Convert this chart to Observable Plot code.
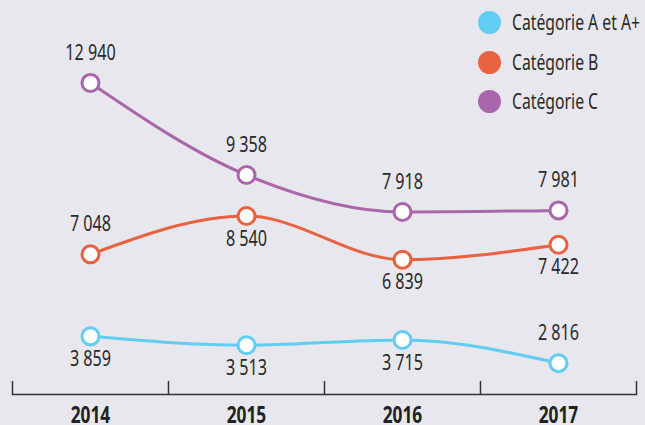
<!DOCTYPE html>
<html>
<head>
<meta charset="utf-8">
<script src="https://cdn.jsdelivr.net/npm/d3@7"></script>
<script src="https://cdn.jsdelivr.net/npm/@observablehq/plot@0.6"></script>
<style>
  html, body { margin: 0; padding: 0; background: #e7e7ed; }
  #wrap { position: relative; width: 645px; height: 425px; overflow: hidden; }
  #legend { position: absolute; left: 478px; top: 0; font-family: "Noto Sans", sans-serif; font-size: 21px; color: #2a2a2a; }
  .item { position: absolute; left: 0; white-space: nowrap; display: flex; align-items: center; height: 24px; }
  .sw { width: 23px; height: 23px; border-radius: 50%; margin-right: 11px; flex: none; }
  .lab { display: inline-block; transform: scaleX(0.75); transform-origin: left center; }
</style>
</head>
<body>
<div id="wrap"><div id="legend"></div></div>
<script>
const years = [2014, 2015, 2016, 2017];
const seriesNames = ["Catégorie A et A+", "Catégorie B", "Catégorie C"];
const catA = [3859, 3513, 3715, 2816];
const catB = [7048, 8540, 6839, 7422];
const catC = [12940, 9358, 7918, 7981];
const colors = ["#62cdf3", "#e9623f", "#a966ab"];
// which side of the point each value label sits on
const sideA = ["below", "below", "below", "above"];
const sideB = ["above", "below", "below", "below"];
const sideC = ["above", "above", "above", "above"];

const fmt = d3.formatLocale({decimal: ",", thousands: " ", grouping: [3], currency: ["", " €"]}).format(",d");

const seriesValues = [catA, catB, catC];
const seriesSides = [sideA, sideB, sideC];
const shift = [0, 0, -20]; // vertical nudge of series C in the original layout

const bounds = years.map(y => y - 0.5).concat([years[years.length - 1] + 0.5]);
const font = '"Noto Sans", sans-serif';

const marks = [];
marks.push(Plot.frame({anchor: "bottom", stroke: "#333", strokeWidth: 1.5}));
marks.push(Plot.ruleX(bounds, {x: d => d, stroke: "#333", strokeWidth: 1.5, insetTop: 381}));
marks.push(Plot.axisX(years, {tickSize: 0, tickPadding: 12, tickFormat: d => String(d), fontSize: 23, fontWeight: "bold", fill: "#222", label: null}));

seriesNames.forEach((name, i) => {
  const rows = years.map((y, j) => ({year: y, value: seriesValues[i][j], side: seriesSides[i][j], series: name}));
  marks.push(Plot.line(rows, {x: "year", y: "value", stroke: colors[i], strokeWidth: 3, curve: "monotone-x", dy: shift[i]}));
});
seriesNames.forEach((name, i) => {
  const rows = years.map((y, j) => ({year: y, value: seriesValues[i][j], side: seriesSides[i][j], series: name}));
  marks.push(Plot.dot(rows, {x: "year", y: "value", r: 8.5, fill: "white", stroke: colors[i], strokeWidth: 3, dy: shift[i]}));
  marks.push(Plot.text(rows.filter(d => d.side === "above"), {x: "year", y: "value", text: d => fmt(d.value), dy: shift[i] - 30, fontSize: 21, fill: "#2a2a2a"}));
  marks.push(Plot.text(rows.filter(d => d.side === "below"), {x: "year", y: "value", text: d => fmt(d.value), dy: shift[i] + 23, fontSize: 21, fill: "#2a2a2a"}));
});

const chart = Plot.plot({
  width: 645,
  height: 425,
  marginTop: 0,
  marginBottom: 31,
  marginLeft: 12,
  marginRight: 9,
  style: {background: "#e7e7ed", fontFamily: font},
  x: {type: "linear", domain: [bounds[0], bounds[bounds.length - 1]], axis: null},
  y: {type: "linear", domain: [0, 14000], range: [435, 435 - 14000 * 0.0257], axis: null},
  marks
});
document.getElementById("wrap").prepend(chart);

// condense the glyphs to mimic the original condensed typeface
chart.querySelectorAll("text").forEach(t => {
  const len = t.getComputedTextLength();
  const bold = t.closest("[font-weight]") && t.closest("[font-weight]").getAttribute("font-weight") === "bold";
  if (len > 0) {
    t.setAttribute("textLength", (len * (bold ? 0.75 : 0.77)).toFixed(1));
    t.setAttribute("lengthAdjust", "spacingAndGlyphs");
  }
});

const legend = document.getElementById("legend");
const tops = [10, 50, 89];
seriesNames.forEach((name, i) => {
  const it = document.createElement("div");
  it.className = "item";
  it.style.top = tops[i] + "px";
  it.innerHTML = `<span class="sw" style="background:${colors[i]}"></span><span class="lab">${name}</span>`;
  legend.appendChild(it);
});
</script>
</body>
</html>
